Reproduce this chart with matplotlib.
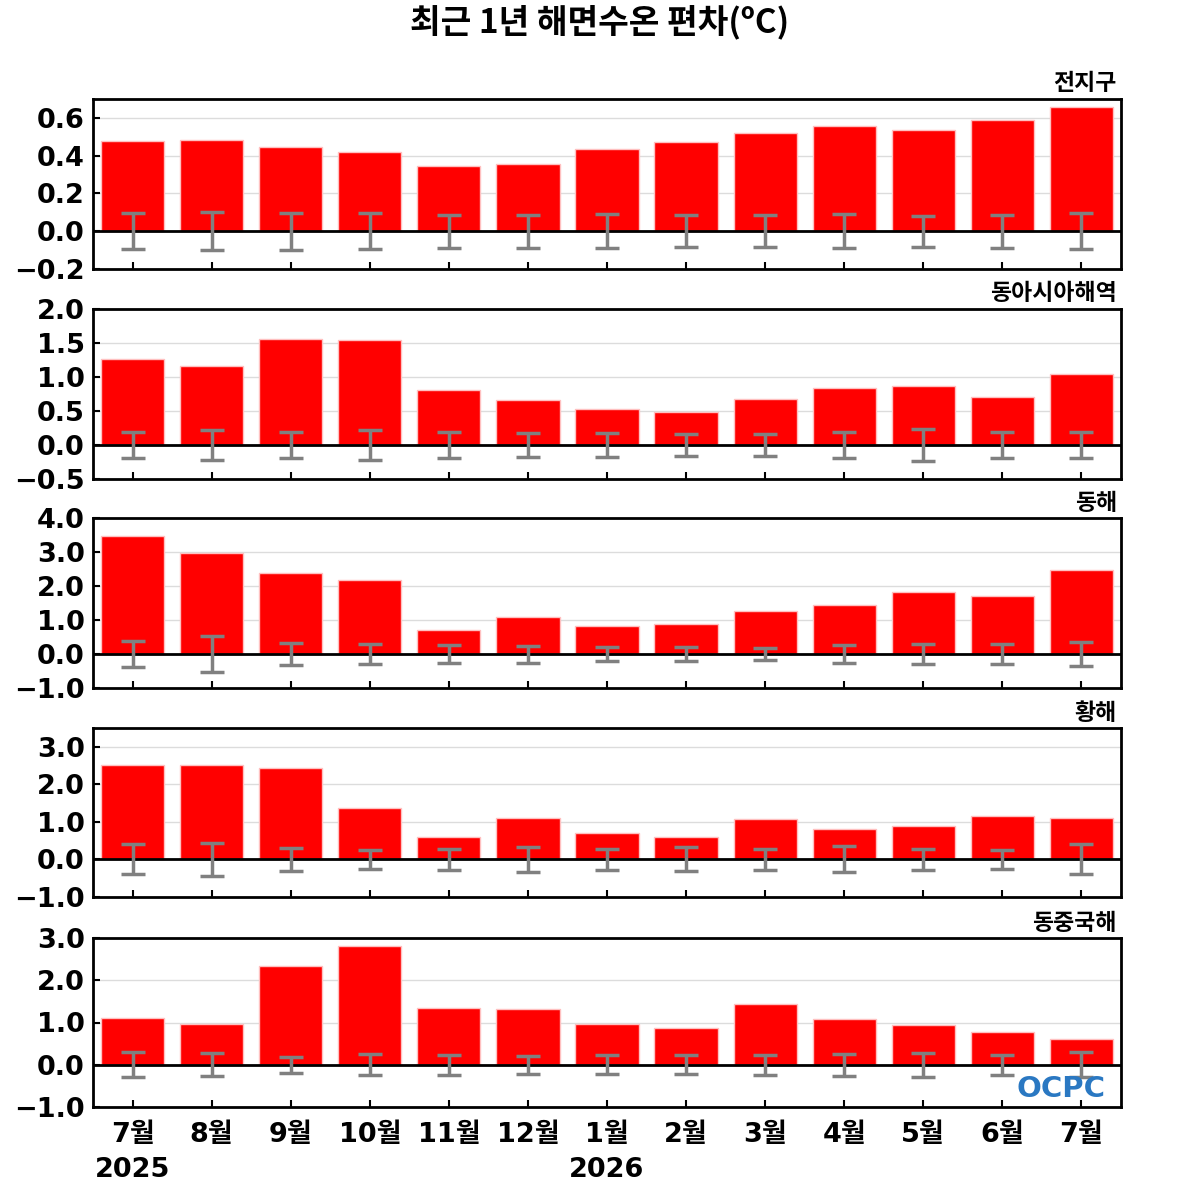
import matplotlib
matplotlib.use("Agg")
import matplotlib.pyplot as plt
import numpy as np

plt.rcParams['font.family'] = ['DejaVu Sans', 'Noto Sans CJK KR']

months = ['7월', '8월', '9월', '10월', '11월', '12월', '1월', '2월', '3월', '4월', '5월', '6월', '7월']
years = ['2025', '', '', '', '', '', '2026', '', '', '', '', '', '']

regions = ['전지구', '동아시아해역', '동해', '황해', '동중국해']

global_vals = [0.48, 0.485, 0.446, 0.422, 0.344, 0.357, 0.434, 0.473, 0.522, 0.556, 0.536, 0.589, 0.658]
global_err = [0.094, 0.10, 0.097, 0.095, 0.087, 0.088, 0.089, 0.085, 0.085, 0.09, 0.082, 0.088, 0.095]

eastasia_vals = [1.263, 1.168, 1.554, 1.545, 0.802, 0.658, 0.524, 0.49, 0.683, 0.841, 0.871, 0.713, 1.045]
eastasia_err = [0.19, 0.22, 0.19, 0.215, 0.195, 0.18, 0.17, 0.155, 0.155, 0.19, 0.235, 0.185, 0.185]

eastsea_vals = [3.48, 2.98, 2.39, 2.19, 0.72, 1.09, 0.814, 0.892, 1.255, 1.451, 1.833, 1.696, 2.48]
eastsea_err = [0.37, 0.53, 0.32, 0.28, 0.27, 0.25, 0.205, 0.2, 0.18, 0.27, 0.30, 0.30, 0.355]

yellow_vals = [2.507, 2.516, 2.436, 1.369, 0.587, 1.093, 0.693, 0.596, 1.076, 0.809, 0.88, 1.156, 1.093]
yellow_err = [0.40, 0.435, 0.30, 0.258, 0.284, 0.325, 0.29, 0.32, 0.284, 0.347, 0.28, 0.258, 0.40]

ecs_vals = [1.11, 0.969, 2.346, 2.819, 1.339, 1.331, 0.976, 0.858, 1.441, 1.094, 0.929, 0.78, 0.598]
ecs_err = [0.30, 0.268, 0.185, 0.247, 0.236, 0.217, 0.22, 0.224, 0.24, 0.26, 0.287, 0.232, 0.30]

all_vals = [global_vals, eastasia_vals, eastsea_vals, yellow_vals, ecs_vals]
all_errs = [global_err, eastasia_err, eastsea_err, yellow_err, ecs_err]

ylims = [(-0.2, 0.7), (-0.5, 2.0), (-1.0, 4.0), (-1.0, 3.5), (-1.0, 3.0)]
yticks = [np.arange(-0.2, 0.61, 0.2), np.arange(-0.5, 2.01, 0.5), np.arange(-1.0, 4.01, 1.0),
          np.arange(-1.0, 3.01, 1.0), np.arange(-1.0, 3.01, 1.0)]

# panel pixel extents (top, bottom) in a 1200px figure
panel_px = [(99, 269), (309, 479), (518, 688), (728, 897), (938, 1107)]
left_px, right_px = 93, 1121

fig = plt.figure(figsize=(12, 12), dpi=100)
fig.text(0.5, 1 - 22 / 1200, '최근 1년 해면수온 편차(ºC)', ha='center', va='center',
         fontsize=24, fontweight='heavy', family=['Noto Sans CJK KR', 'DejaVu Sans'])

x = np.arange(len(months))
axes = []
for i, (vals, errs) in enumerate(zip(all_vals, all_errs)):
    top, bot = panel_px[i]
    ax = fig.add_axes([left_px / 1200, 1 - bot / 1200, (right_px - left_px) / 1200, (bot - top) / 1200])
    axes.append(ax)
    ax.set_axisbelow(True)
    ax.yaxis.grid(True, color='#dcdcdc', linewidth=1.0)
    ax.bar(x, vals, width=0.8, color='#ff0000', edgecolor='#ffc0c0', linewidth=1.0, zorder=2)
    ax.axhline(0, color='black', linewidth=2, zorder=3)
    ax.errorbar(x, np.zeros(len(x)), yerr=errs, fmt='none', ecolor='#808080',
                elinewidth=2.5, capsize=8.5, capthick=2.5, zorder=4)
    ax.set_xlim(-0.5, len(months) - 0.5)
    ax.set_ylim(*ylims[i])
    ax.set_yticks(yticks[i])
    ax.set_yticklabels([f'{v:.1f}'.replace('-', '\u2212') for v in yticks[i]])
    ax.set_xticks(x)
    ax.tick_params(axis='both', direction='in', length=5, width=1.5, labelsize=19.5)
    ax.tick_params(axis='y', pad=6)
    for lab in ax.get_yticklabels():
        lab.set_fontweight('bold')
    for s in ax.spines.values():
        s.set_linewidth(2)
    if i < len(all_vals) - 1:
        ax.set_xticklabels([])
    else:
        ax.set_xticklabels([m + ('\n' + y if y else '') for m, y in zip(months, years)],
                           fontweight='heavy', linespacing=1.45)
        ax.tick_params(axis='x', pad=11)
    fig.text(1117 / 1200, 1 - (top - 15) / 1200, regions[i], ha='right', va='center',
             fontsize=16.5, fontweight='heavy', family=['Noto Sans CJK KR', 'DejaVu Sans'])

axes[-1].text(0.985, 0.025, 'OCPC', transform=axes[-1].transAxes, ha='right', va='bottom',
              fontsize=21, fontweight='bold', color='#2a78c2', zorder=5)

fig.savefig('out.png', dpi=100)
